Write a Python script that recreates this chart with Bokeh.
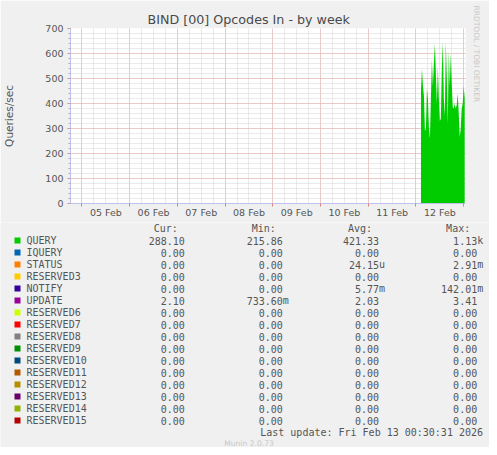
import pandas as pd
from bokeh.plotting import figure
from bokeh.models import Range1d, FixedTicker, DatetimeTickFormatter, Title
from bokeh.layouts import column
from bokeh.embed import file_html
from bokeh.resources import INLINE
from bokeh.core.properties import value

# ---------------- data ----------------
title_text = "BIND [00] Opcodes In - by week"
y_label = "Queries/sec"
series_start = "2026-02-12 02:30"   # first 30-minute sample
query_values = [450, 540, 470, 430, 290, 300, 460, 420, 300, 260,
                420, 575, 470, 560, 640, 520, 400, 545, 420, 330,
                340, 540, 645, 420, 350, 645, 500, 320, 610, 470,
                600, 480, 385, 380, 400, 380, 395, 440, 360, 265,
                300, 380, 400, 470, 420]
x_start = "2026-02-04 18:13"
x_end = "2026-02-13 00:54"
day_labels = ["2026-02-05", "2026-02-06", "2026-02-07", "2026-02-08",
              "2026-02-09", "2026-02-10", "2026-02-11", "2026-02-12"]
y_ticks = [0, 100, 200, 300, 400, 500, 600, 700]
y_minor = list(range(0, 701, 20))

labels = ["QUERY", "IQUERY", "STATUS", "RESERVED3", "NOTIFY", "UPDATE",
          "RESERVED6", "RESERVED7", "RESERVED8", "RESERVED9", "RESERVED10",
          "RESERVED11", "RESERVED12", "RESERVED13", "RESERVED14", "RESERVED15"]
colors = ["#00CC00", "#0066B3", "#FF8000", "#FFCC00", "#330099", "#990099",
          "#CCFF00", "#FF0000", "#808080", "#008F00", "#00487D", "#B35A00",
          "#B38F00", "#6B006B", "#8FB300", "#B30000"]
cur_vals = ["288.10", "0.00", "0.00", "0.00", "0.00", "2.10"] + ["0.00"] * 10
min_vals = ["215.86", "0.00", "0.00", "0.00", "0.00", "733.60m"] + ["0.00"] * 10
avg_vals = ["421.33", "0.00", "24.15u", "0.00", "5.77m", "2.03"] + ["0.00"] * 10
max_vals = ["1.13k", "0.00", "2.91m", "0.00", "142.01m", "3.41"] + ["0.00"] * 10
headers = ["Cur:", "Min:", "Avg:", "Max:"]
last_update = "Last update: Fri Feb 13 00:30:31 2026"
footer = "Munin 2.0.73"
watermark = "RRDTOOL / TOBI OETIKER"

# ---------------- helpers ----------------
def ms(s):
    return pd.Timestamp(s).value // 10**6

BG = "#F0F0F0"
TXT = "#555555"
AXC = "#C0C0F0"
W = 489
H_TOP = 222
H_BOT = 225

times = pd.date_range(series_start, periods=len(query_values), freq="30min")
noons = [ms(d) + 12 * 3600 * 1000 for d in day_labels]
midnights = [ms(d) for d in day_labels] + [ms("2026-02-13")]
six_hours = [ms("2026-02-04 18:00") + i * 6 * 3600 * 1000 for i in range(34)]

# ---------------- chart ----------------
p = figure(width=W, height=H_TOP, x_axis_type="datetime",
           x_range=Range1d(ms(x_start), ms(x_end)), y_range=Range1d(0, 700),
           output_backend="svg", toolbar_location=None,
           min_border_left=67, min_border_right=23, min_border_top=28,
           min_border_bottom=19)
p.frame_align = False
p.background_fill_color = "white"
p.border_fill_color = BG
p.outline_line_color = None

p.varea(x=times, y1=0, y2=query_values, fill_color="#00CC00")

t = Title(text=title_text, align="left", offset=77, standoff=3,
          text_font="DejaVu Sans", text_font_size="12.7px",
          text_font_style="normal", text_color="#4A4A4A")
p.add_layout(t, "above")
w = Title(text=watermark, align="left", offset=-23, standoff=13,
          text_font="DejaVu Sans", text_font_size="7.5px",
          text_font_style="normal", text_color="#C8C8C8")
p.add_layout(w, "right")

# grids
p.xgrid.ticker = FixedTicker(ticks=midnights, minor_ticks=six_hours)
p.xgrid.grid_line_color = "#EBA8A8"
p.xgrid.grid_line_dash = "1 1"
p.xgrid.minor_grid_line_color = "#D4D4D4"
p.xgrid.minor_grid_line_dash = "1 1"
p.ygrid.ticker = FixedTicker(ticks=y_ticks, minor_ticks=y_minor)
p.ygrid.grid_line_color = "#EBA8A8"
p.ygrid.grid_line_dash = "1 1"
p.ygrid.minor_grid_line_color = "#D4D4D4"
p.ygrid.minor_grid_line_dash = "1 1"

# x axis
xa = p.xaxis[0]
xa.ticker = FixedTicker(ticks=noons, minor_ticks=midnights)
fmt = "%d %b"
xa.formatter = DatetimeTickFormatter(milliseconds=fmt, seconds=fmt, minsec=fmt,
                                     minutes=fmt, hourmin=fmt, hours=fmt,
                                     days=fmt, months=fmt, years=fmt)
xa.major_tick_out = 0
xa.major_tick_in = 0
xa.minor_tick_out = 3
xa.minor_tick_in = 0
xa.minor_tick_line_color = "#E08080"
xa.axis_line_color = AXC
xa.major_label_standoff = 0
xa.major_label_text_font = "DejaVu Sans"
xa.major_label_text_font_size = "9.5px"
xa.major_label_text_color = TXT

# y axis
ya = p.yaxis[0]
ya.ticker = FixedTicker(ticks=y_ticks, minor_ticks=y_minor)
ya.major_tick_out = 3
ya.major_tick_in = 0
ya.major_tick_line_color = "#E08080"
ya.minor_tick_out = 2
ya.minor_tick_in = 0
ya.minor_tick_line_color = "#B0B0B0"
ya.axis_line_color = AXC
ya.major_label_standoff = 4
ya.major_label_text_font = "DejaVu Sans"
ya.major_label_text_font_size = "9.5px"
ya.major_label_text_color = TXT
ya.axis_label = y_label
ya.axis_label_text_font = "DejaVu Sans"
ya.axis_label_text_font_size = "10.5px"
ya.axis_label_text_font_style = "normal"
ya.axis_label_text_color = TXT
ya.axis_label_standoff = 27

# ---------------- legend table ----------------
q = figure(width=W, height=H_BOT, x_range=Range1d(0, W), y_range=Range1d(H_TOP + H_BOT, H_TOP),
           output_backend="svg", toolbar_location=None,
           min_border=0, min_border_left=0, min_border_right=0,
           min_border_top=0, min_border_bottom=0)
q.frame_align = False
q.axis.visible = False
q.grid.visible = False
q.outline_line_color = None
q.background_fill_color = BG
q.border_fill_color = BG

row_y = [240 + 12 * i for i in range(len(labels))]
mono = value("DejaVu Sans Mono")

q.scatter(x=[17] * len(labels), y=row_y, marker="square", size=6,
          fill_color=colors, line_color=None)
q.text(x=[26] * len(labels), y=row_y, text=labels, text_font=mono,
       text_font_size="10px", text_baseline="middle", text_color=TXT)

field_ends = [184.3, 282.3, 378.5, 476.7]
for fe, head, vals in zip(field_ends, headers, [cur_vals, min_vals, avg_vals, max_vals]):
    q.text(x=[fe - 7], y=[228], text=[head], text_font=mono, text_font_size="10px",
           text_baseline="middle", text_align="right", text_color=TXT)
    nums = [v.rstrip("kmu") for v in vals]
    sufs = [v[len(n):] for v, n in zip(vals, nums)]
    q.text(x=[fe] * len(vals), y=row_y, text=nums, text_font=mono, text_font_size="10px",
           text_baseline="middle", text_align="right", text_color=TXT)
    q.text(x=[fe] * len(vals), y=row_y, text=sufs, text_font=mono, text_font_size="10px",
           text_baseline="middle", text_align="left", text_color=TXT)

q.text(x=[482.5], y=[432], text=[last_update], text_font=mono, text_font_size="10px",
       text_baseline="middle", text_align="right", text_color=TXT)
q.text(x=[248.5], y=[443], text=[footer], text_font=value("DejaVu Sans"),
       text_font_size="7.6px", text_baseline="middle", text_align="center",
       text_color="#C8C8C8")

layout = column(p, q, spacing=0)
open("out.html", "w").write(file_html(layout, INLINE))
